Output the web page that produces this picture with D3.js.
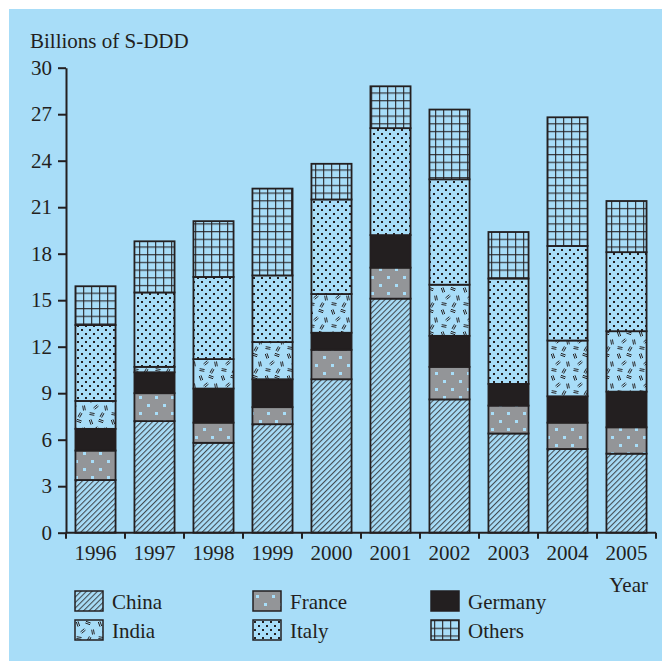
<!DOCTYPE html>
<html>
<head>
<meta charset="utf-8">
<script src="https://cdn.jsdelivr.net/npm/d3@7"></script>
<style>
  html, body { margin: 0; padding: 0; background: #ffffff; }
  svg { display: block; }
  text { font-family: "Liberation Serif", "Times New Roman", serif; fill: #231f20; }
</style>
</head>
<body>
<div id="chart"></div>
<script>
// ---- data ----
const years = ["1996", "1997", "1998", "1999", "2000", "2001", "2002", "2003", "2004", "2005"];
const countries = ["China", "France", "Germany", "India", "Italy", "Others"];
const china   = [3.4, 7.2, 5.8, 7.0, 9.9, 15.1, 8.6, 6.4, 5.4, 5.1];
const france  = [1.9, 1.8, 1.3, 1.1, 1.9, 2.0, 2.1, 1.8, 1.7, 1.7];
const germany = [1.4, 1.35, 2.2, 1.8, 1.1, 2.1, 2.0, 1.4, 1.7, 2.3];
const india   = [1.8, 0.35, 1.9, 2.4, 2.5, 0, 3.3, 0, 3.6, 3.9];
const italy   = [4.9, 4.8, 5.3, 4.3, 6.1, 6.9, 6.8, 6.8, 6.1, 5.1];
const others  = [2.5, 3.3, 3.6, 5.6, 2.3, 2.7, 4.5, 3.0, 8.3, 3.3];
const yTicks  = [0, 3, 6, 9, 12, 15, 18, 21, 24, 27, 30];
const yLabel = "Billions of S-DDD";
const xLabel = "Year";

// ---- setup ----
const W = 662, H = 661;
const BG = "#a8ddf8", INK = "#231f20", GRAY = "#939598";
const svg = d3.select("#chart").append("svg").attr("width", W).attr("height", H);
svg.append("rect").attr("x", 9).attr("y", 9).attr("width", W - 9).attr("height", H - 9).attr("fill", BG);

const defs = svg.append("defs");
// China: diagonal hatch
const pChina = defs.append("pattern").attr("id", "p-China").attr("patternUnits", "userSpaceOnUse")
  .attr("width", 3.9).attr("height", 10).attr("patternTransform", "rotate(45)");
pChina.append("rect").attr("width", 3.9).attr("height", 10).attr("fill", BG);
pChina.append("line").attr("x1", 0.6).attr("x2", 0.6).attr("y1", 0).attr("y2", 10).attr("stroke", INK).attr("stroke-width", 0.85);
// France: gray with light squares
const pFr = defs.append("pattern").attr("id", "p-France").attr("patternUnits", "userSpaceOnUse")
  .attr("width", 16).attr("height", 16).attr("x", 2).attr("y", 3);
pFr.append("rect").attr("width", 16).attr("height", 16).attr("fill", GRAY);
pFr.append("rect").attr("x", 1).attr("y", 1).attr("width", 3).attr("height", 3).attr("fill", BG);
pFr.append("rect").attr("x", 9).attr("y", 9).attr("width", 3).attr("height", 3).attr("fill", BG);
// India: scattered double dashes
const pIn = defs.append("pattern").attr("id", "p-India").attr("patternUnits", "userSpaceOnUse")
  .attr("width", 22).attr("height", 22);
pIn.append("rect").attr("width", 22).attr("height", 22).attr("fill", BG);
const marks = [[3, 4, 70], [13, 3, 20], [8, 11, -40], [18, 12, 80], [4, 18, 10], [14, 19, -60]];
marks.forEach(([mx, my, a]) => {
  const g = pIn.append("g").attr("transform", `translate(${mx},${my}) rotate(${a})`);
  g.append("line").attr("x1", -2.5).attr("x2", 2.5).attr("y1", -0.9).attr("y2", -0.9).attr("stroke", INK).attr("stroke-width", 0.9);
  g.append("line").attr("x1", -2.5).attr("x2", 2.5).attr("y1", 0.9).attr("y2", 0.9).attr("stroke", INK).attr("stroke-width", 0.9);
});
// Italy: staggered dots
const pIt = defs.append("pattern").attr("id", "p-Italy").attr("patternUnits", "userSpaceOnUse")
  .attr("width", 8).attr("height", 8);
pIt.append("rect").attr("width", 8).attr("height", 8).attr("fill", BG);
pIt.append("rect").attr("x", 1).attr("y", 1).attr("width", 2).attr("height", 2).attr("fill", INK);
pIt.append("rect").attr("x", 5).attr("y", 5).attr("width", 2).attr("height", 2).attr("fill", INK);
// Others: grid
const pOt = defs.append("pattern").attr("id", "p-Others").attr("patternUnits", "userSpaceOnUse")
  .attr("width", 8).attr("height", 7.7).attr("x", 3);
pOt.append("rect").attr("width", 8).attr("height", 7.7).attr("fill", BG);
pOt.append("line").attr("x1", 0.6).attr("x2", 0.6).attr("y1", 0).attr("y2", 7.7).attr("stroke", INK).attr("stroke-width", 1.3).attr("stroke-opacity", 0.85);
pOt.append("line").attr("x1", 0).attr("x2", 8).attr("y1", 0.6).attr("y2", 0.6).attr("stroke", INK).attr("stroke-width", 1.3).attr("stroke-opacity", 0.85);

const fills = {
  China: "url(#p-China)", France: "url(#p-France)", Germany: INK,
  India: "url(#p-India)", Italy: "url(#p-Italy)", Others: "url(#p-Others)"
};

// ---- scales ----
const x = d3.scaleBand().domain(years).range([66, 656]).paddingInner(0.32).paddingOuter(0.16);
const y = d3.scaleLinear().domain([0, 30]).range([532.7, 67.7]);

const series = { China: china, France: france, Germany: germany, India: india, Italy: italy, Others: others };
const table = years.map((yr, i) => {
  const row = { year: yr };
  countries.forEach(c => row[c] = series[c][i]);
  return row;
});
const stacked = d3.stack().keys(countries)(table);

// ---- bars ----
const gBars = svg.append("g");
stacked.forEach(layer => {
  gBars.selectAll(null).data(layer.filter(d => d[1] - d[0] > 0)).enter().append("rect")
    .attr("x", d => x(d.data.year))
    .attr("width", x.bandwidth())
    .attr("y", d => y(d[1]))
    .attr("height", d => y(d[0]) - y(d[1]))
    .attr("fill", fills[layer.key])
    .attr("stroke", INK)
    .attr("stroke-width", 1.8);
});

// ---- y axis ----
const yAxis = svg.append("g").attr("transform", "translate(66,0)")
  .call(d3.axisLeft(y).tickValues(yTicks).tickSize(8).tickSizeOuter(0).tickPadding(6));
yAxis.select(".domain").attr("stroke", INK).attr("stroke-width", 2);
yAxis.selectAll(".tick line").attr("stroke", INK).attr("stroke-width", 2);
yAxis.selectAll(".tick text").attr("font-size", 21).attr("font-family", "Liberation Serif").attr("fill", INK);

// ---- x axis ----
const step = x.step(), gap = step * x.paddingInner();
svg.append("line").attr("x1", 66).attr("x2", 656).attr("y1", y(0)).attr("y2", y(0))
  .attr("stroke", INK).attr("stroke-width", 2);
const bounds = years.map(d => x(d) - gap / 2).concat([x(years[years.length - 1]) + x.bandwidth() + gap / 2]);
svg.selectAll(null).data(bounds).enter().append("line")
  .attr("x1", d => d).attr("x2", d => d)
  .attr("y1", y(0)).attr("y2", y(0) + 6)
  .attr("stroke", INK).attr("stroke-width", 2);
svg.selectAll(null).data(years).enter().append("text")
  .attr("x", d => x(d) + x.bandwidth() / 2)
  .attr("y", 560)
  .attr("text-anchor", "middle")
  .attr("font-size", 21)
  .text(d => d);

svg.append("text").attr("x", 648).attr("y", 592).attr("text-anchor", "end").attr("font-size", 21).text(xLabel);
svg.append("text").attr("x", 30).attr("y", 48).attr("font-size", 21).text(yLabel);

// ---- legend ----
const legX = [75, 253, 431], legY = [591, 620];
countries.forEach((c, i) => {
  const col = i % 3, row = Math.floor(i / 3);
  const g = svg.append("g").attr("transform", `translate(${legX[col]},${legY[row]})`);
  g.append("rect").attr("width", 28).attr("height", 20).attr("fill", fills[c])
    .attr("stroke", INK).attr("stroke-width", 1.5);
  g.append("text").attr("x", 37).attr("y", 18).attr("font-size", 21).text(c);
});
</script>
</body>
</html>
